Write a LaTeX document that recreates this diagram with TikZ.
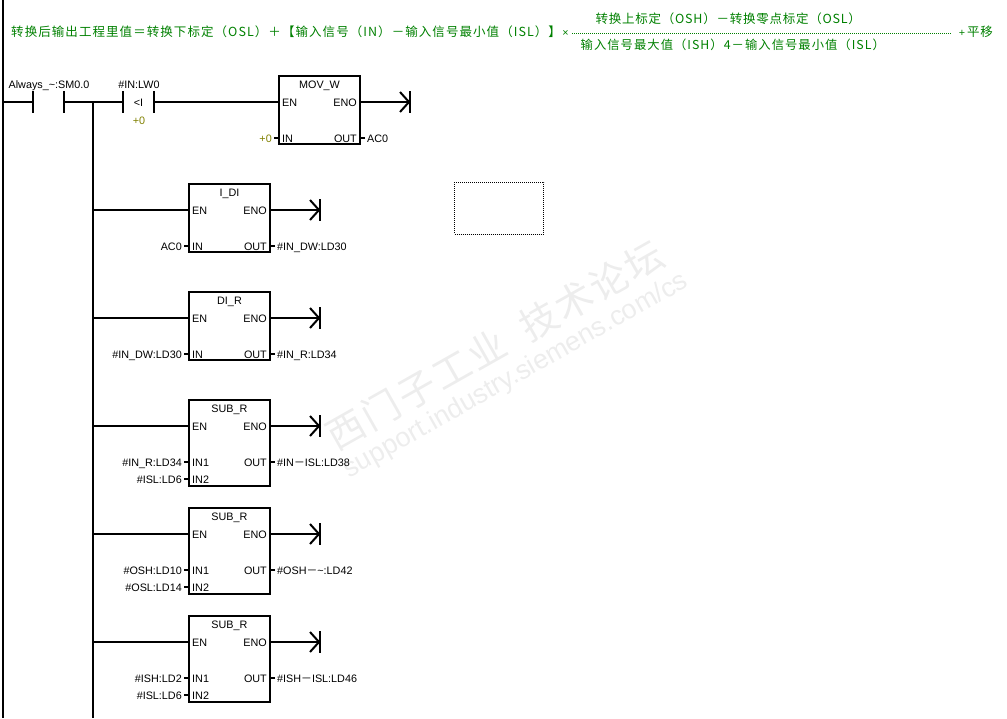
\documentclass[tikz,border=0pt]{standalone}
\usepackage{fontspec}
\setmainfont{Liberation Sans}
\newfontfamily\cjkfont[LetterSpace=6]{Noto Sans CJK SC}
\newfontfamily\cjkwide[LetterSpace=8.5]{Noto Sans CJK SC}
\definecolor{formulagreen}{HTML}{008000}
\definecolor{constolive}{HTML}{808000}
\begin{document}
\begin{tikzpicture}[x=1pt, y=-1pt, font=\fontsize{10.8}{12}\selectfont]
    \tikzset{rung/.style={line width=2pt},
        stub/.style={line width=2pt, shorten <=2pt},
        ladder block/.style={rectangle,draw,line width=2pt,minimum width=81pt,outer sep=0pt,inner sep=0pt},
        pin/.style={inner sep=0pt,text height=8.5pt,text depth=0pt},
        formula/.style={inner sep=0pt,text=formulagreen,font=\cjkfont\fontsize{12.5}{15}\selectfont},
        mark text/.style={inner sep=0pt,text=black!7,rotate=29.5},
        fine dots/.style={dash pattern=on 1pt off 1pt,line width=1pt}}
    \useasboundingbox (0,0) rectangle (1007,718);

    % Watermark
    \node[mark text, font=\cjkfont\fontsize{38}{42}\selectfont] (wm_cn) at (495,345) {西门子工业\ \ 技术论坛};
    \node[mark text, font=\fontsize{27}{30}\selectfont] (wm_url) at (516,376) {support.industry.siemens.com/cs};

    % Formula on top
    \node[formula, anchor=west, font=\cjkwide\fontsize{12.5}{15}\selectfont] (f_left) at (11,32) {转换后输出工程里值＝转换下标定（OSL）＋【输入信号（IN）－输入信号最小值（ISL）】};
    \node[pin, text=formulagreen] (f_times) at (565.5,32.5) {×};
    \coordinate (f_a) at (572,33);
    \coordinate (f_b) at (952,33);
    \draw[fine dots, formulagreen] (f_a) -- (f_b);
    \node[formula, anchor=west] (f_top) at (595.5,19) {转换上标定（OSH）－转换零点标定（OSL）};
    \node[formula, anchor=west, font=\cjkwide\fontsize{12.3}{15}\selectfont] (f_bot) at (580.5,45) {输入信号最大值（ISH）4－输入信号最小值（ISL）};
    \node[pin, text=formulagreen] (f_plus) at (962,32.5) {+};
    \node[formula, anchor=west] (f_right) at (967,32) {平移};

    % Power rail and branch rail
    \coordinate (rail_top) at (3,0);
    \coordinate (rail_bot) at (3,718);
    \coordinate (rail_l) at (3,102);
    \coordinate (bus_top) at (93,102);
    \coordinate (bus_bot) at (93,718);
    \draw[rung] (rail_top) -- (rail_bot);
    \draw[rung] (bus_top) -- (bus_bot);

    % First contact
    \coordinate (c1_l) at (33,102);
    \coordinate (c1_r) at (64,102);
    \draw[rung] (33,91) -- (33,113);
    \draw[rung] (64,91) -- (64,113);
    \node[pin] (c1_name) at (49,84) {Always\_\textasciitilde:SM0.0};
    \draw[rung] (rail_l) -- (c1_l);

    % Compare contact
    \coordinate (c2_l) at (123,102);
    \coordinate (c2_r) at (154,102);
    \draw[rung] (123,91) -- (123,113);
    \draw[rung] (154,91) -- (154,113);
    \node[pin] (c2_name) at (139,84) {\#IN:LW0};
    \node[pin] (c2_op) at (138.5,102) {<I};
    \node[pin, text=constolive] (c2_val) at (139,120) {+0};
    \draw[rung] (c1_r) -- (c2_l);

    % MOV_W
    \node[ladder block, minimum height=68pt] (mov) at (319.5,110) {};
    \node[pin] (mov_name) at (319.5,84) {MOV\_W};
    \node[pin, anchor=west] (mov_en) at (282,102) {EN};
    \node[pin, anchor=east] (mov_eno) at (357,102) {ENO};
    \node[pin, anchor=west] (mov_in) at (282,138) {IN};
    \node[pin, anchor=east] (mov_out) at (357,138) {OUT};
    \node[pin, anchor=east, text=constolive] (mov_inv) at (272,138) {+0};
    \node[pin, anchor=west] (mov_outv) at (367,138) {AC0};
    \coordinate (mov_end) at (409,102);
    \draw[rung] (c2_r) -- (c2_r -| mov.west);
    \draw[rung] (mov.east |- mov_end) -- (mov_end);
    \draw[rung] (400,92) -- (mov_end) -- (400,112);
    \draw[rung] (410,91) -- (410,113);
    \draw[stub] (mov_inv.east) -- (mov_inv.east -| mov.west);
    \draw[stub] (mov_outv.west) -- (mov_outv.west -| mov.east);

    % I_DI
    \node[ladder block, minimum height=68pt] (idi) at (229.5,218) {};
    \node[pin] (idi_name) at (229.5,192) {I\_DI};
    \node[pin, anchor=west] (idi_en) at (192,210) {EN};
    \node[pin, anchor=east] (idi_eno) at (267,210) {ENO};
    \node[pin, anchor=west] (idi_in) at (192,246) {IN};
    \node[pin, anchor=east] (idi_out) at (267,246) {OUT};
    \node[pin, anchor=east] (idi_inv) at (182,246) {AC0};
    \node[pin, anchor=west] (idi_outv) at (277,246) {\#IN\_DW:LD30};
    \coordinate (idi_bus) at (93,210);
    \coordinate (idi_end) at (319,210);
    \draw[rung] (idi_bus) -- (idi_bus -| idi.west);
    \draw[rung] (idi.east |- idi_end) -- (idi_end);
    \draw[rung] (310,200) -- (idi_end) -- (310,220);
    \draw[rung] (320,199) -- (320,221);
    \draw[stub] (idi_inv.east) -- (idi_inv.east -| idi.west);
    \draw[stub] (idi_outv.west) -- (idi_outv.west -| idi.east);

    % DI_R
    \node[ladder block, minimum height=68pt] (dir) at (229.5,326) {};
    \node[pin] (dir_name) at (229.5,300) {DI\_R};
    \node[pin, anchor=west] (dir_en) at (192,318) {EN};
    \node[pin, anchor=east] (dir_eno) at (267,318) {ENO};
    \node[pin, anchor=west] (dir_in) at (192,354) {IN};
    \node[pin, anchor=east] (dir_out) at (267,354) {OUT};
    \node[pin, anchor=east] (dir_inv) at (182,354) {\#IN\_DW:LD30};
    \node[pin, anchor=west] (dir_outv) at (277,354) {\#IN\_R:LD34};
    \coordinate (dir_bus) at (93,318);
    \coordinate (dir_end) at (319,318);
    \draw[rung] (dir_bus) -- (dir_bus -| dir.west);
    \draw[rung] (dir.east |- dir_end) -- (dir_end);
    \draw[rung] (310,308) -- (dir_end) -- (310,328);
    \draw[rung] (320,307) -- (320,329);
    \draw[stub] (dir_inv.east) -- (dir_inv.east -| dir.west);
    \draw[stub] (dir_outv.west) -- (dir_outv.west -| dir.east);

    % SUB_R, input minus ISL
    \node[ladder block, minimum height=86pt] (sub1) at (229.5,443) {};
    \node[pin] (sub1_name) at (229.5,408) {SUB\_R};
    \node[pin, anchor=west] (sub1_en) at (192,426) {EN};
    \node[pin, anchor=east] (sub1_eno) at (267,426) {ENO};
    \node[pin, anchor=west] (sub1_ina) at (192,462) {IN1};
    \node[pin, anchor=west] (sub1_inb) at (192,479) {IN2};
    \node[pin, anchor=east] (sub1_out) at (267,462) {OUT};
    \node[pin, anchor=east] (sub1_av) at (182,462) {\#IN\_R:LD34};
    \node[pin, anchor=east] (sub1_bv) at (182,479) {\#ISL:LD6};
    \node[pin, anchor=west] (sub1_outv) at (277,462) {\#IN{\cjkfont－}ISL:LD38};
    \coordinate (sub1_bus) at (93,426);
    \coordinate (sub1_end) at (319,426);
    \draw[rung] (sub1_bus) -- (sub1_bus -| sub1.west);
    \draw[rung] (sub1.east |- sub1_end) -- (sub1_end);
    \draw[rung] (310,416) -- (sub1_end) -- (310,436);
    \draw[rung] (320,415) -- (320,437);
    \draw[stub] (sub1_av.east) -- (sub1_av.east -| sub1.west);
    \draw[stub] (sub1_bv.east) -- (sub1_bv.east -| sub1.west);
    \draw[stub] (sub1_outv.west) -- (sub1_outv.west -| sub1.east);

    % SUB_R, OSH minus OSL
    \node[ladder block, minimum height=86pt] (sub2) at (229.5,551) {};
    \node[pin] (sub2_name) at (229.5,516) {SUB\_R};
    \node[pin, anchor=west] (sub2_en) at (192,534) {EN};
    \node[pin, anchor=east] (sub2_eno) at (267,534) {ENO};
    \node[pin, anchor=west] (sub2_ina) at (192,570) {IN1};
    \node[pin, anchor=west] (sub2_inb) at (192,587) {IN2};
    \node[pin, anchor=east] (sub2_out) at (267,570) {OUT};
    \node[pin, anchor=east] (sub2_av) at (182,570) {\#OSH:LD10};
    \node[pin, anchor=east] (sub2_bv) at (182,587) {\#OSL:LD14};
    \node[pin, anchor=west] (sub2_outv) at (277,570) {\#OSH{\cjkfont－}\textasciitilde:LD42};
    \coordinate (sub2_bus) at (93,534);
    \coordinate (sub2_end) at (319,534);
    \draw[rung] (sub2_bus) -- (sub2_bus -| sub2.west);
    \draw[rung] (sub2.east |- sub2_end) -- (sub2_end);
    \draw[rung] (310,524) -- (sub2_end) -- (310,544);
    \draw[rung] (320,523) -- (320,545);
    \draw[stub] (sub2_av.east) -- (sub2_av.east -| sub2.west);
    \draw[stub] (sub2_bv.east) -- (sub2_bv.east -| sub2.west);
    \draw[stub] (sub2_outv.west) -- (sub2_outv.west -| sub2.east);

    % SUB_R, ISH minus ISL
    \node[ladder block, minimum height=86pt] (sub3) at (229.5,659) {};
    \node[pin] (sub3_name) at (229.5,624) {SUB\_R};
    \node[pin, anchor=west] (sub3_en) at (192,642) {EN};
    \node[pin, anchor=east] (sub3_eno) at (267,642) {ENO};
    \node[pin, anchor=west] (sub3_ina) at (192,678) {IN1};
    \node[pin, anchor=west] (sub3_inb) at (192,695) {IN2};
    \node[pin, anchor=east] (sub3_out) at (267,678) {OUT};
    \node[pin, anchor=east] (sub3_av) at (182,678) {\#ISH:LD2};
    \node[pin, anchor=east] (sub3_bv) at (182,695) {\#ISL:LD6};
    \node[pin, anchor=west] (sub3_outv) at (277,678) {\#ISH{\cjkfont－}ISL:LD46};
    \coordinate (sub3_bus) at (93,642);
    \coordinate (sub3_end) at (319,642);
    \draw[rung] (sub3_bus) -- (sub3_bus -| sub3.west);
    \draw[rung] (sub3.east |- sub3_end) -- (sub3_end);
    \draw[rung] (310,632) -- (sub3_end) -- (310,652);
    \draw[rung] (320,631) -- (320,653);
    \draw[stub] (sub3_av.east) -- (sub3_av.east -| sub3.west);
    \draw[stub] (sub3_bv.east) -- (sub3_bv.east -| sub3.west);
    \draw[stub] (sub3_outv.west) -- (sub3_outv.west -| sub3.east);

    % Dotted selection box
    \node[rectangle, draw, fine dots, minimum width=89pt, minimum height=52pt, inner sep=0pt] (sel) at (499,208) {};
\end{tikzpicture}
\end{document}
